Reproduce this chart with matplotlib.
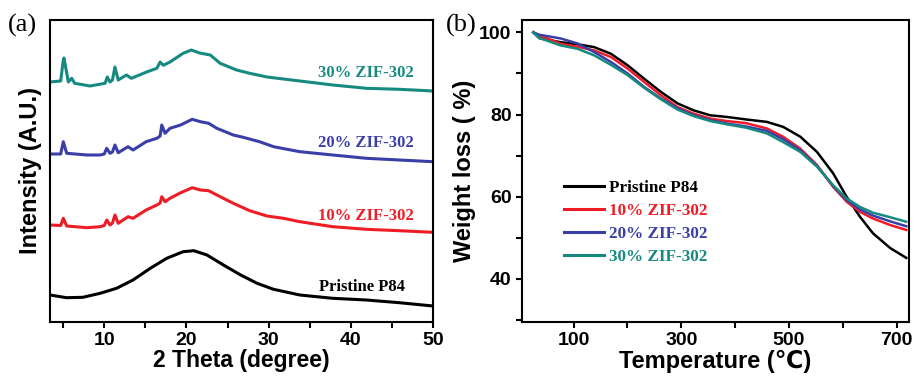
import matplotlib
matplotlib.use("Agg")
from matplotlib import pyplot as plt
from matplotlib.ticker import MultipleLocator, FixedLocator

# ---- (a) XRD patterns, stacked (arbitrary units) ----
xrd_p84_x = [3.4, 5.4, 7.4, 9.5, 11.5, 13.5, 15.6, 17.6, 19.6, 20.9, 22.5, 24.5, 26.6, 28.6,
             30.6, 33.8, 37.8, 41.9, 45.9, 50]
xrd_p84_y = [27, 24.3, 24.7, 28.7, 33.7, 42, 53.7, 63.7, 70.3, 71.3, 67, 57, 47, 38.7,
             32.7, 27, 23.7, 22, 19.3, 16]

xrd_10_x = [3.4, 4.7, 5.02, 5.43, 7.9, 9.5, 10.0, 10.3, 10.7, 11.0, 11.3, 11.7, 12.9, 13.5,
            15.1, 16.4, 16.8, 17.0, 17.4, 18.0, 19.3, 20.7, 21.7, 22.7, 23.7, 25.7, 27.7,
            29.8, 31.8, 33.8, 37.8, 41.9, 45.9, 50]
xrd_10_y = [97, 96.5, 103.7, 96, 94.3, 95.3, 96.5, 102, 97, 99, 107, 98.7, 105.3, 103.7,
            112, 117, 119, 125.3, 120.3, 123.7, 129.3, 134.3, 132, 131.3, 127, 118.7, 111.3,
            106, 103.7, 100.3, 95.3, 92.7, 91.3, 89.7]

xrd_20_x = [3.4, 4.7, 5.02, 5.43, 7.9, 9.5, 10.0, 10.3, 10.7, 11.0, 11.3, 11.7, 12.9, 13.5,
            15.1, 16.4, 16.8, 17.0, 17.4, 18.0, 19.3, 20.7, 21.7, 22.7, 23.7, 25.7, 26.9,
            28.9, 30.6, 33.8, 37.8, 41.9, 45.9, 50]
xrd_20_y = [168, 168, 180.3, 168.7, 167, 167, 168, 173.7, 168.7, 170, 177, 169.3, 175.3, 172,
            180.3, 183.7, 186, 197, 188.7, 193.7, 197, 202.7, 200.3, 198.7, 193.7, 187, 184.7,
            180.3, 175.3, 170.3, 167, 163.7, 162, 160.3]

xrd_30_x = [3.4, 4.7, 5.02, 5.1, 5.63, 6.04, 6.4, 8.27, 10.1, 10.37, 10.7, 11.0, 11.3, 11.7,
            12.7, 13.3, 15.16, 16.4, 16.8, 17.2, 18.0, 19.6, 20.6, 21.6, 22.9, 24.1, 26.1,
            27.7, 29.8, 33.8, 37.8, 41.9, 45.9, 50]
xrd_30_y = [240, 241, 262, 264, 240, 243.7, 238.7, 236, 238.7, 245, 240, 242, 255, 242,
            247, 243.7, 250, 253.7, 260, 256.7, 260, 268.7, 272, 269, 267, 258.7, 252,
            248.7, 245, 241, 237, 233.7, 232.7, 231]

# ---- (b) TGA curves ----
tga_t = [25, 36, 50, 76, 107, 138, 169, 200, 231, 262, 293, 323, 354, 385, 420, 459, 489,
         521, 552, 582, 607, 632, 656, 688, 718]
tga_p84 = [100, 98.6, 98.2, 97.6, 97.1, 96.4, 94.8, 92.0, 88.7, 85.5, 82.7, 81.0, 79.8, 79.4,
           78.8, 78.2, 77.0, 74.6, 70.9, 65.7, 60.0, 55.1, 51.1, 47.5, 45.1]
tga_10 = [100, 99.0, 98.6, 97.2, 96.5, 95.6, 94.0, 91.2, 87.9, 84.7, 81.8, 80.2, 79.0, 78.4,
          77.9, 76.6, 74.6, 71.7, 67.7, 62.4, 58.8, 56.3, 54.7, 53.1, 51.9]
tga_20 = [100, 99.4, 99.1, 98.5, 97.3, 95.2, 92.8, 90.0, 86.7, 83.9, 81.5, 79.8, 78.6, 77.8,
          77.1, 76.0, 74.0, 71.3, 67.5, 62.6, 59.2, 56.9, 55.4, 54.0, 52.8]
tga_30 = [100, 98.6, 98.0, 96.8, 96.0, 94.4, 92.1, 89.6, 86.5, 83.7, 81.2, 79.6, 78.4, 77.6,
          76.8, 75.4, 73.3, 70.9, 67.3, 62.8, 59.6, 57.5, 56.1, 55.0, 53.9]

labels = ["Pristine P84", "10% ZIF-302", "20% ZIF-302", "30% ZIF-302"]
colors = ["black", "#ee1c25", "#3a3fa8", "#168a80"]

sans = ["Liberation Sans", "DejaVu Sans"]
serif = ["Liberation Serif", "DejaVu Serif"]

fig = plt.figure(figsize=(9.16, 3.76), dpi=100)
axA = fig.add_axes([50 / 916, 54 / 376, 383 / 916, 302 / 376])
axB = fig.add_axes([522 / 916, 54 / 376, 387 / 916, 302 / 376])

# panel (a)
xrd = [(xrd_p84_x, xrd_p84_y), (xrd_10_x, xrd_10_y), (xrd_20_x, xrd_20_y), (xrd_30_x, xrd_30_y)]
for (x, y), c in zip(xrd, colors):
    axA.plot(x, y, color=c, lw=2.2, solid_joinstyle="round")

txt_y = [35, 106, 179, 249]
txt_x = [46.6, 47.6, 47.6, 47.6]
for lab, c, tx, ty in zip(labels, colors, txt_x, txt_y):
    axA.text(tx, ty, lab, color=c, ha="right", va="center", fontsize=12,
             fontweight="bold", family=serif)

axA.set_xlim(3.4, 50)
axA.set_ylim(0, 302)
axA.set_yticks([])
axA.xaxis.set_major_locator(MultipleLocator(10))
axA.xaxis.set_minor_locator(MultipleLocator(5))
axA.set_xlabel("2 Theta (degree)", fontsize=16.5, fontweight="bold", family=sans, labelpad=0)
axA.set_ylabel("Intensity (A.U.)", fontsize=17, fontweight="bold", family=sans, labelpad=6)

# panel (b)
tga = [tga_p84, tga_10, tga_20, tga_30]
for y, c, lab in zip(tga, colors, labels):
    axB.plot(tga_t, y, color=c, lw=1.8, label=lab, solid_joinstyle="round")

axB.set_xlim(4, 723)
axB.set_ylim(29.5, 103)
axB.xaxis.set_major_locator(FixedLocator([100, 300, 500, 700]))
axB.xaxis.set_minor_locator(FixedLocator([200, 400, 600]))
axB.yaxis.set_major_locator(MultipleLocator(20))
axB.yaxis.set_minor_locator(MultipleLocator(10))
axB.set_xlabel("Temperature (℃)", fontsize=17, fontweight="bold", family=sans, labelpad=0)
axB.set_ylabel("Weight loss ( %)", fontsize=17, fontweight="bold", family=sans, labelpad=2)

leg = axB.legend(loc="upper left", bbox_to_anchor=(0.108, 0.47), frameon=False,
                 borderpad=0, borderaxespad=0,
                 handlelength=2.35, handletextpad=0.3, labelspacing=0.41,
                 prop={"family": serif, "weight": "bold", "size": 12.3})
for t, c in zip(leg.get_texts(), colors):
    t.set_color(c)
for h in leg.get_lines():
    h.set_linewidth(2.2)

for ax in (axA, axB):
    for s in ax.spines.values():
        s.set_linewidth(1.5)
    ax.tick_params(which="both", direction="out", length=4, width=1.5)
    ax.tick_params(which="minor", labelbottom=False)
    for lab in ax.get_xticklabels() + ax.get_yticklabels():
        lab.set_fontweight("bold")
        lab.set_fontfamily(sans)
        lab.set_fontsize(14)

fig.text(8 / 916, 1 - 25 / 376, "(a)", fontsize=19, family=serif, va="center", ha="left")
fig.text(446 / 916, 1 - 25 / 376, "(b)", fontsize=19, family=serif, va="center", ha="left")

fig.savefig("out.png", dpi=100)
